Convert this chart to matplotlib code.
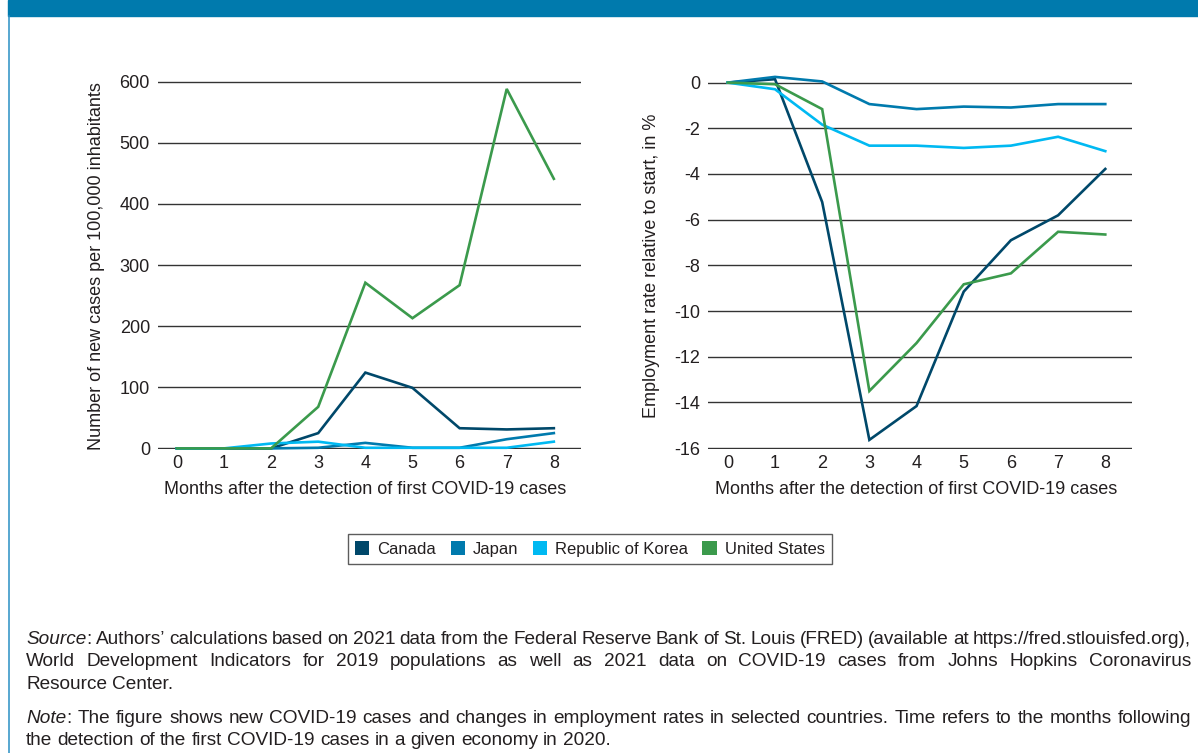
import matplotlib
matplotlib.use('Agg')
import matplotlib.pyplot as plt
from matplotlib.patches import Patch, Rectangle
from matplotlib.lines import Line2D

plt.rcParams['font.family'] = ['Liberation Sans', 'DejaVu Sans']
plt.rcParams['axes.unicode_minus'] = False

# data
months = [0, 1, 2, 3, 4, 5, 6, 7, 8]
countries = ['Canada', 'Japan', 'Republic of Korea', 'United States']
colors = ['#00486a', '#007aad', '#00b9f2', '#3b9a4c']

# new cases per 100,000 inhabitants
cases_canada = [0, 0, 0, 25, 124, 99, 33, 31, 33]
cases_japan = [0, 0, 0, 1, 9, 1, 1, 15, 25]
cases_korea = [0, 0, 8, 11, 1, 1, 1, 1, 11]
cases_us = [0, 0, 0, 68, 271, 213, 267, 588, 441]

# employment rate relative to start, in %
empl_canada = [0, 0.15, -5.23, -15.64, -14.16, -9.15, -6.9, -5.81, -3.78]
empl_japan = [0, 0.25, 0.05, -0.94, -1.16, -1.05, -1.09, -0.94, -0.94]
empl_korea = [0, -0.29, -1.84, -2.76, -2.76, -2.86, -2.76, -2.37, -3.0]
empl_us = [0, -0.07, -1.16, -13.5, -11.4, -8.83, -8.35, -6.53, -6.65]

left_yticks = [0, 100, 200, 300, 400, 500, 600]
right_yticks = [0, -2, -4, -6, -8, -10, -12, -14, -16]

xlabel = 'Months after the detection of first COVID-19 cases'
left_ylabel = 'Number of new cases per 100,000 inhabitants'
right_ylabel = 'Employment rate relative to start, in %'

notes = [
    ('Source: Authors’ calculations based on 2021 data from the Federal Reserve Bank of St. Louis (FRED) '
     '(available at https://fred.stlouisfed.org),', 'Source', True),
    ('World Development Indicators for 2019 populations as well as 2021 data on COVID-19 cases from '
     'Johns Hopkins Coronavirus', None, True),
    ('Resource Center.', None, False),
    ('Note: The figure shows new COVID-19 cases and changes in employment rates in selected countries. '
     'Time refers to the months following', 'Note', True),
    ('the detection of the first COVID-19 cases in a given economy in 2020.', None, False),
]
note_baselines = [643.5, 666, 689, 723, 745]

txt = '#231f20'
grid_col = '#333333'
W, H = 1198, 753

fig = plt.figure(figsize=(W / 100, H / 100), dpi=100)


def px_box(l, t, r, b):
    return [l / W, 1 - b / H, (r - l) / W, (b - t) / H]


# frame: blue header bar and left border
fig.patches.append(Rectangle((8 / W, 1 - 16 / H), (W - 8) / W, 16 / H,
                             transform=fig.transFigure, color='#007aad', zorder=0))
fig.lines.append(Line2D([8.5 / W, 8.5 / W], [0, 1 - 16 / H], transform=fig.transFigure,
                        color='#2a8fc4', lw=1.1))

ax1 = fig.add_axes(px_box(158, 81, 580.7, 449))
ax2 = fig.add_axes(px_box(708, 81.7, 1131.7, 449))

for ax, series, yt, ylim, xlim in [
        (ax1, [cases_canada, cases_japan, cases_korea, cases_us], left_yticks, (-1, 601), (-0.40, 8.57)),
        (ax2, [empl_canada, empl_japan, empl_korea, empl_us], right_yticks, (-16.04, 0.04), (-0.42, 8.56))]:
    for vals, c in zip(series, colors):
        ax.plot(months, vals, color=c, lw=1.9, clip_on=False, zorder=3, solid_joinstyle='miter')
    ax.set_xlim(*xlim)
    ax.set_ylim(*ylim)
    ax.set_xticks(months)
    ax.set_yticks(yt)
    ax.set_yticklabels([str(v) for v in yt])
    ax.yaxis.grid(True, color=grid_col, lw=1.0)
    ax.set_axisbelow(True)
    for s in ax.spines.values():
        s.set_visible(False)
    ax.tick_params(axis='y', length=0, pad=5.8, labelsize=13, labelcolor=txt)
    ax.tick_params(axis='x', length=0, pad=4.5, labelsize=13, labelcolor=txt)
    ax.patch.set_alpha(0)

# axis titles
fig.text(365.3 / W, 1 - 490 / H, xlabel, ha='center', va='center', fontsize=13, color=txt)
fig.text(916.5 / W, 1 - 489 / H, xlabel, ha='center', va='center', fontsize=13, color=txt)
fig.text(97 / W, 1 - 266 / H, left_ylabel, ha='center', va='center', rotation=90, fontsize=13, color=txt)
fig.text(652 / W, 1 - 265.5 / H, right_ylabel, ha='center', va='center', rotation=90, fontsize=13, color=txt)

handles = [Patch(facecolor=c, edgecolor='none', label=n) for n, c in zip(countries, colors)]
leg = fig.legend(handles=handles, loc='center', bbox_to_anchor=(590 / W, 1 - 549 / H), ncol=4,
                 frameon=True, fancybox=False, edgecolor=grid_col, fontsize=12,
                 handlelength=0.85, handleheight=0.85, handletextpad=0.5, columnspacing=0.85,
                 borderpad=0.45)
leg.get_frame().set_linewidth(1.0)
for t in leg.get_texts():
    t.set_color(txt)

# footnotes, justified like the source
renderer = fig.canvas.get_renderer()
note_size = 13.7


def text_width(s, style):
    t = fig.text(0, 0, s, fontsize=note_size, style=style)
    w = t.get_window_extent(renderer).width
    t.remove()
    return w


space_w = text_width('x x', 'normal') - text_width('xx', 'normal')
x0, x1 = 26, 1191

for (line, italic, justify), yb in zip(notes, note_baselines):
    words = []
    for i, w in enumerate(line.split(' ')):
        if i == 0 and italic:
            words.append([(italic, 'italic'), (w[len(italic):], 'normal')])
        else:
            words.append([(w, 'normal')])
    widths = [[text_width(s, st) for s, st in w] for w in words]
    total = sum(sum(ws) for ws in widths)
    gap = (x1 - x0 - total) / (len(words) - 1) if justify else space_w
    gap = max(gap, 0.6 * space_w)
    x = x0
    for w, ws in zip(words, widths):
        xx = x
        for (s, st), sw in zip(w, ws):
            fig.text(xx / W, 1 - yb / H, s, fontsize=note_size, style=st, color=txt,
                     ha='left', va='baseline')
            xx += sw
        x += sum(ws) + gap

fig.savefig('out.png', dpi=100)
